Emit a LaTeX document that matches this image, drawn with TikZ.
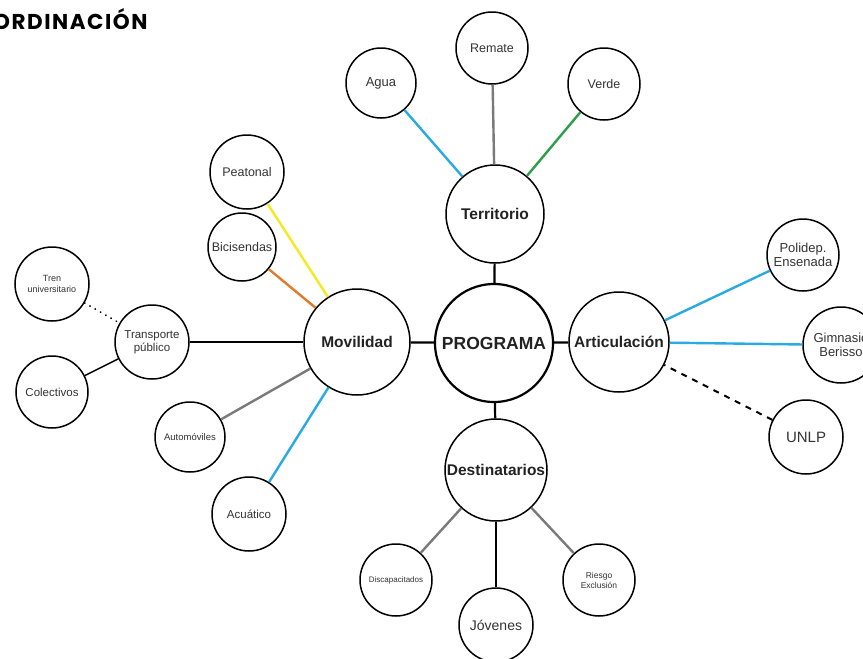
\documentclass[tikz,border=0pt]{standalone}
\usepackage{fontspec}
\setmainfont{Liberation Sans}
\newfontfamily\titlefont[LetterSpace=7]{Poppins}
\definecolor{cy}{HTML}{29ABE2}
\definecolor{gr}{HTML}{2E9E4A}
\definecolor{ye}{HTML}{F2EA22}
\definecolor{orn}{HTML}{E07B2C}
\definecolor{gy}{HTML}{7A7A7A}
\definecolor{txt}{HTML}{333333}
\definecolor{mtxt}{HTML}{222222}
\tikzset{
  bub/.style={circle, draw=black, line width=1.5pt, inner sep=0pt, align=center, text=txt},
  mainbub/.style={bub, font=\bfseries\fontsize{15.5}{17}\selectfont, text=mtxt, minimum size=104pt},
  conn/.style={line width=2.2pt, black},
  cconn/.style={line width=2.4pt},
}
\begin{document}
\begin{tikzpicture}[x=1pt,y=-1pt]
\useasboundingbox (0,0) rectangle (863,659);
\fill[white] (0,0) rectangle (863,659);

\node[anchor=west, font=\titlefont\bfseries\fontsize{21.5}{23}\selectfont, inner sep=0pt] (title) at (-7,19) {ORDINACIÓN};

% main nodes
\node[bub, line width=2.2pt, font=\bfseries\fontsize{17.5}{19}\selectfont, text=mtxt, minimum size=118pt] (prog) at (494,343) {PROGRAMA};
\node[mainbub, minimum size=98pt] (terr) at (495,214) {Territorio};
\node[mainbub, minimum size=102pt] (dest) at (496,470) {Destinatarios};
\node[mainbub, minimum size=106pt] (mov) at (357,342) {Movilidad};
\node[mainbub, minimum size=100pt] (art) at (619,342) {Articulación};

% Territorio children
\node[bub, minimum size=70pt, font=\fontsize{13}{14}\selectfont] (agua) at (381,83) {Agua};
\node[bub, minimum size=72pt, font=\fontsize{12.5}{14}\selectfont] (rem) at (492,48) {Remate};
\node[bub, minimum size=72pt, font=\fontsize{12.5}{14}\selectfont] (verde) at (604,84) {Verde};

% Movilidad children
\node[bub, minimum size=74pt, font=\fontsize{12.5}{14}\selectfont] (peat) at (247,172) {Peatonal};
\node[bub, minimum size=68pt, font=\fontsize{12.5}{14}\selectfont] (bici) at (242,247) {Bicisendas};
\node[bub, minimum size=74pt, font=\fontsize{11.5}{13}\selectfont] (trans) at (152,342) {Transporte\\público};
\node[bub, minimum size=74pt, font=\fontsize{9}{10.5}\selectfont] (tren) at (52,284) {Tren\\universitario};
\node[bub, minimum size=72pt, font=\fontsize{11.5}{13}\selectfont] (colec) at (52,392) {Colectivos};
\node[bub, minimum size=70pt, font=\fontsize{9.5}{11}\selectfont] (auto) at (190,437) {Automóviles};
\node[bub, minimum size=74pt, font=\fontsize{11.5}{13}\selectfont] (acua) at (249,514) {Acuático};

% Articulacion children
\node[bub, minimum size=72pt, font=\fontsize{13}{14.5}\selectfont] (poli) at (803,255) {Polidep.\\Ensenada};
\node[bub, minimum size=76pt, font=\fontsize{13}{14.5}\selectfont] (gim) at (841,345) {Gimnasio\\Berisso};
\node[bub, minimum size=74pt, font=\fontsize{15}{17}\selectfont] (unlp) at (806,437) {UNLP};

% Destinatarios children
\node[bub, minimum size=72pt, font=\fontsize{8}{9.5}\selectfont] (disc) at (396,580) {Discapacitados};
\node[bub, minimum size=74pt, font=\fontsize{14}{15}\selectfont] (jov) at (496,625) {Jóvenes};
\node[bub, minimum size=72pt, font=\fontsize{8.5}{10}\selectfont] (ries) at (599,580) {Riesgo\\Exclusión};

% connectors
\draw[conn] (prog) -- (terr);
\draw[conn] (prog) -- (dest);
\draw[conn] (prog) -- (mov);
\draw[conn] (prog) -- (art);

\draw[cconn, cy] (agua) -- (terr);
\draw[cconn, gy] (rem) -- (terr);
\draw[cconn, gr] (verde) -- (terr);

\draw[cconn, ye] (peat) -- (mov);
\draw[cconn, orn] (bici) -- (mov);
\draw[conn] (trans) -- (mov);
\draw[cconn, gy] (auto) -- (mov);
\draw[cconn, cy] (acua) -- (mov);

\draw[line width=2pt, line cap=round, dash pattern=on 0.1pt off 6pt] (tren) -- (trans);
\draw[line width=1.5pt] (colec) -- (trans);

\draw[cconn, cy] (poli) -- (art);
\draw[cconn, cy] (gim) -- (art);
\draw[line width=2pt, dash pattern=on 6pt off 6pt] (unlp) -- (art);

\draw[cconn, gy] (disc) -- (dest);
\draw[conn] (jov) -- (dest);
\draw[cconn, gy] (ries) -- (dest);
\end{tikzpicture}
\end{document}
